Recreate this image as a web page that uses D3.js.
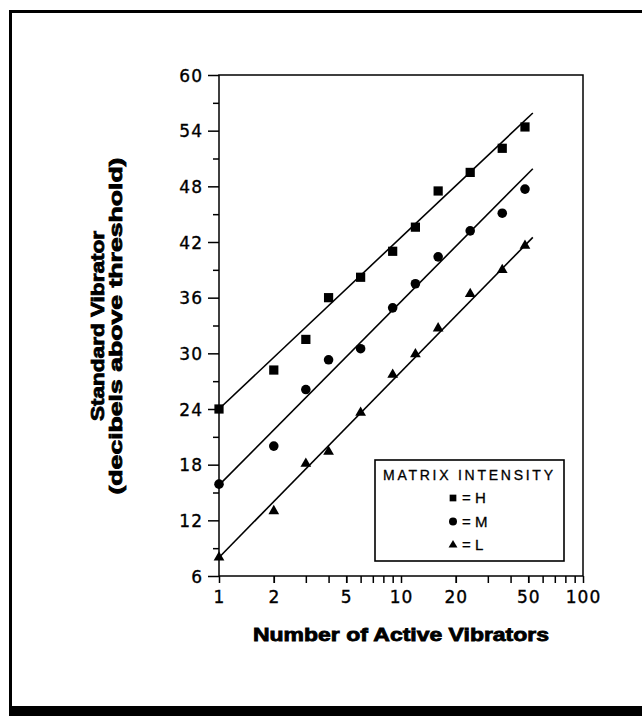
<!DOCTYPE html>
<html>
<head>
<meta charset="utf-8">
<script src="https://cdn.jsdelivr.net/npm/d3@7"></script>
<style>
  html, body { margin: 0; padding: 0; background: #fff; }
  svg { display: block; }
</style>
</head>
<body>
<svg id="chart" width="642" height="716"></svg>
<script>
// ---- data ----
const activeVibrators = [1, 2, 3, 4, 6, 9, 12, 16, 24, 36, 48];
const seriesNames = ["H", "M", "L"];
const valuesH = [24.0, 28.2, 31.5, 36.0, 38.2, 41.0, 43.6, 47.5, 49.5, 52.1, 54.4];
const valuesM = [15.9, 20.0, 26.1, 29.3, 30.5, 34.9, 37.5, 40.4, 43.2, 45.1, 47.7];
const valuesL = [8.0, 13.0, 18.1, 19.4, 23.6, 27.7, 29.9, 32.7, 36.4, 39.0, 41.6];
const fitX = [1, 53];
const fitH = [24.0, 55.9];
const fitM = [15.8, 49.9];
const fitL = [8.0, 42.5];
const xTickLabels = [1, 2, 5, 10, 20, 50, 100];
const xMinorTicks = [2, 3, 4, 5, 6, 7, 8, 9, 20, 30, 40, 50, 60, 70, 80, 90];
const yTickLabels = [6, 12, 18, 24, 30, 36, 42, 48, 54, 60];
const yMinorTicks = [9, 15, 21, 27, 33, 39, 45, 51, 57];
const legendTitle = "MATRIX INTENSITY";
const xTitle = "Number of Active Vibrators";
const yTitle1 = "Standard Vibrator";
const yTitle2 = "(decibels above threshold)";

// ---- layout ----
const svg = d3.select("#chart");
const L = 219, R = 583, T = 75, B = 576;
const x = d3.scaleLog().domain([1, 100]).range([L, R]);
const y = d3.scaleLinear().domain([6, 60]).range([B, T]);

// outer frame
svg.append("line").attr("x1", 10.5).attr("x2", 10.5).attr("y1", 11).attr("y2", 716)
  .attr("stroke", "#000").attr("stroke-width", 3);
svg.append("line").attr("x1", 9).attr("x2", 642).attr("y1", 11.5).attr("y2", 11.5)
  .attr("stroke", "#000").attr("stroke-width", 3);
svg.append("rect").attr("x", 9).attr("y", 706).attr("width", 633).attr("height", 10)
  .attr("fill", "#000");

// plot box
svg.append("rect").attr("x", L).attr("y", T).attr("width", R - L).attr("height", B - T)
  .attr("fill", "none").attr("stroke", "#000").attr("stroke-width", 1.5);

const tickFont = "'DejaVu Sans', sans-serif";

// y axis major
const yAxis = svg.append("g").attr("transform", `translate(${L},0)`)
  .call(d3.axisLeft(y).tickValues(yTickLabels).tickSize(11).tickSizeOuter(0).tickPadding(5).tickFormat(d3.format("d")));
// y axis minor
const yMinor = svg.append("g").attr("transform", `translate(${L},0)`)
  .call(d3.axisLeft(y).tickValues(yMinorTicks).tickSize(6).tickSizeOuter(0).tickFormat(""));
// x axis major
const xAxis = svg.append("g").attr("transform", `translate(0,${B})`)
  .call(d3.axisBottom(x).tickValues(xTickLabels).tickSize(7).tickSizeOuter(0).tickPadding(8).tickFormat(d3.format("d")));
// x axis minor
const xMinor = svg.append("g").attr("transform", `translate(0,${B})`)
  .call(d3.axisBottom(x).tickValues(xMinorTicks).tickSize(7).tickSizeOuter(0).tickFormat(""));

[yAxis, yMinor, xAxis, xMinor].forEach(g => {
  g.select(".domain").remove();
  g.selectAll(".tick line").attr("stroke", "#000").attr("stroke-width", 1.5);
  g.selectAll("text").attr("fill", "#000").attr("font-family", tickFont)
    .attr("font-size", 17).style("letter-spacing", "1px")
    .attr("stroke", "#000").attr("stroke-width", 0.35);
});
yAxis.selectAll("text").attr("dy", "0.36em");
xAxis.selectAll("text").attr("dy", "0.71em");

// fit lines
const fits = [fitH, fitM, fitL];
const line = d3.line().x(d => x(d[0])).y(d => y(d[1]));
fits.forEach(f => {
  svg.append("path").datum(fitX.map((xv, i) => [xv, f[i]]))
    .attr("d", line).attr("fill", "none").attr("stroke", "#000").attr("stroke-width", 1.6);
});

// markers
const symbolTypes = [d3.symbolSquare, d3.symbolCircle, d3.symbolTriangle];
const symbolSizes = [85, 72, 50];
const allValues = [valuesH, valuesM, valuesL];
allValues.forEach((vals, si) => {
  svg.append("g").selectAll("path")
    .data(activeVibrators.map((xv, i) => [xv, vals[i]]))
    .join("path")
    .attr("transform", d => `translate(${x(d[0])},${y(d[1])})`)
    .attr("d", d3.symbol().type(symbolTypes[si]).size(symbolSizes[si]))
    .attr("fill", "#000");
});

// legend
const lg = svg.append("g");
lg.append("rect").attr("x", 375).attr("y", 460).attr("width", 189).attr("height", 101)
  .attr("fill", "#fff").attr("stroke", "#000").attr("stroke-width", 1.6);
lg.append("text").attr("x", 383).attr("y", 480).text(legendTitle)
  .attr("font-family", "'Liberation Sans', Arial, sans-serif").attr("font-size", 14)
  .attr("textLength", 170).attr("lengthAdjust", "spacing").attr("fill", "#000")
  .attr("stroke", "#000").attr("stroke-width", 0.3);
const legendSizes = [45, 50, 34];
seriesNames.forEach((nm, i) => {
  const cy = 498 + i * 23.5;
  lg.append("path").attr("transform", `translate(453,${cy})`)
    .attr("d", d3.symbol().type(symbolTypes[i]).size(legendSizes[i])).attr("fill", "#000");
  lg.append("text").attr("x", 462).attr("y", cy + 5).text("= " + nm)
    .attr("font-family", "'Liberation Sans', Arial, sans-serif").attr("font-size", 15)
    .attr("fill", "#000").attr("stroke", "#000").attr("stroke-width", 0.3);
});

// axis titles
const titleFont = "'Liberation Sans', Arial, sans-serif";
svg.append("text").attr("x", (L + R) / 2).attr("y", 641).attr("text-anchor", "middle")
  .text(xTitle).attr("font-family", titleFont).attr("font-weight", "bold").attr("font-size", 18)
  .attr("textLength", 296).attr("lengthAdjust", "spacingAndGlyphs")
  .attr("stroke", "#000").attr("stroke-width", 0.8).attr("fill", "#000");
svg.append("text").attr("transform", "translate(104,326) rotate(-90)").attr("text-anchor", "middle")
  .text(yTitle1).attr("font-family", titleFont).attr("font-weight", "bold").attr("font-size", 18)
  .attr("textLength", 190).attr("lengthAdjust", "spacingAndGlyphs")
  .attr("stroke", "#000").attr("stroke-width", 0.8).attr("fill", "#000");
svg.append("text").attr("transform", "translate(122,326) rotate(-90)").attr("text-anchor", "middle")
  .text(yTitle2).attr("font-family", titleFont).attr("font-weight", "bold").attr("font-size", 18)
  .attr("textLength", 337).attr("lengthAdjust", "spacingAndGlyphs")
  .attr("stroke", "#000").attr("stroke-width", 0.8).attr("fill", "#000");
</script>
</body>
</html>
